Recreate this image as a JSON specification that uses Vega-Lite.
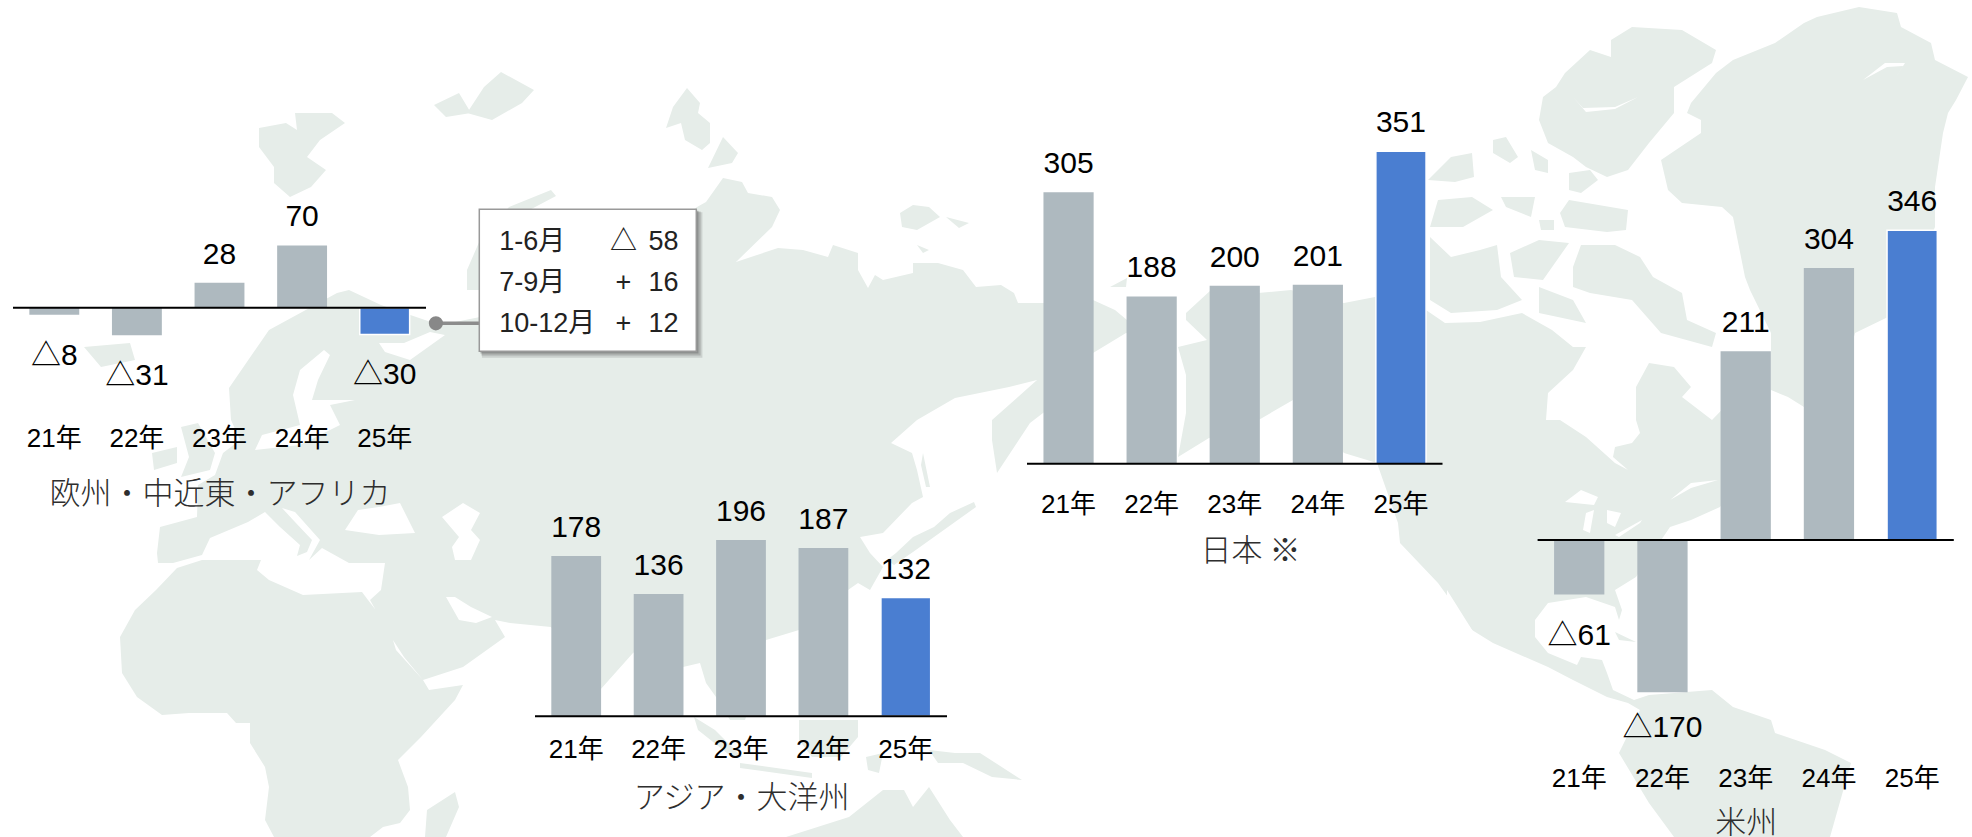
{"$schema":"https://vega.github.io/schema/vega-lite/v6.json","width":1972,"height":837,"padding":0,"autosize":{"type":"none"},"background":"white","config":{"view":{"stroke":null},"text":{"font":"Liberation Sans, Noto Sans CJK JP","fontSize":30,"color":"#000000","baseline":"alphabetic"},"axis":{"grid":false,"domain":false,"ticks":false,"labelPadding":0,"labelAngle":0,"labelFont":"Liberation Sans, Noto Sans CJK JP","labelFontSize":26,"labelColor":"#000000","labelBaseline":"alphabetic","labelFlush":false,"labelOverlap":false,"titleFont":"Noto Sans CJK JP","titleFontSize":31,"titleFontWeight":300,"titleColor":"#2e2e2e","titleBaseline":"alphabetic"}},
"datasets":{"results":[
{"region":"欧州・中近東・アフリカ","year":"21年","value":-8,"label":"△8"},{"region":"欧州・中近東・アフリカ","year":"22年","value":-31,"label":"△31"},{"region":"欧州・中近東・アフリカ","year":"23年","value":28,"label":"28"},{"region":"欧州・中近東・アフリカ","year":"24年","value":70,"label":"70"},{"region":"欧州・中近東・アフリカ","year":"25年","value":-30,"label":"△30"},
{"region":"アジア・大洋州","year":"21年","value":178,"label":"178"},{"region":"アジア・大洋州","year":"22年","value":136,"label":"136"},{"region":"アジア・大洋州","year":"23年","value":196,"label":"196"},{"region":"アジア・大洋州","year":"24年","value":187,"label":"187"},{"region":"アジア・大洋州","year":"25年","value":132,"label":"132"},
{"region":"日本 ※","year":"21年","value":305,"label":"305"},{"region":"日本 ※","year":"22年","value":188,"label":"188"},{"region":"日本 ※","year":"23年","value":200,"label":"200"},{"region":"日本 ※","year":"24年","value":201,"label":"201"},{"region":"日本 ※","year":"25年","value":351,"label":"351"},
{"region":"米州","year":"21年","value":-61,"label":"△61"},{"region":"米州","year":"22年","value":-170,"label":"△170"},{"region":"米州","year":"23年","value":211,"label":"211"},{"region":"米州","year":"24年","value":304,"label":"304"},{"region":"米州","year":"25年","value":346,"label":"346"}],
"breakdown":[{"period":"1-6月","sign":"△","amount":58},{"period":"7-9月","sign":"+","amount":16},{"period":"10-12月","sign":"+","amount":12}]},
"layer":[
{"data":{"values":{"type":"FeatureCollection","features":[
{"type":"Feature","properties":{"kind":"land"},"geometry":{"type":"MultiPolygon","coordinates":[
[[[177,568],[156,590],[135,610],[120,637],[122,673],[137,697],[162,715],[189,713],[227,713],[236,723],[250,723],[250,743],[265,767],[269,787],[265,820],[274,837],[370,837],[383,827],[400,823],[410,810],[408,787],[398,760],[421,737],[455,700],[463,685],[429,690],[423,680],[396,650],[389,627],[368,600],[362,592],[303,595],[269,580],[257,570],[261,560],[202,560],[177,568]]],
[[[455,792],[459,807],[446,837],[425,837],[427,810],[455,792]]],
[[[158,563],[173,563],[202,555],[210,538],[248,522],[265,512],[280,527],[300,545],[297,556],[307,552],[312,540],[295,522],[282,508],[295,512],[320,540],[309,560],[322,548],[349,563],[385,563],[381,590],[370,600],[391,637],[404,657],[423,680],[463,667],[505,637],[495,620],[510,623],[551,627],[560,640],[590,700],[600,690],[633,653],[650,640],[683,667],[700,663],[706,683],[716,697],[730,720],[745,720],[755,690],[766,640],[799,630],[848,590],[858,583],[870,590],[883,567],[870,553],[860,537],[883,533],[912,503],[923,497],[917,470],[912,453],[891,443],[917,420],[955,398],[1009,387],[1037,380],[992,420],[992,440],[997,473],[1030,423],[1060,400],[1093,353],[1126,333],[1170,340],[1176,325],[1127,320],[1115,310],[1093,300],[1043,303],[1018,303],[1014,293],[1001,285],[976,287],[963,270],[938,263],[913,263],[913,273],[883,280],[875,275],[868,288],[858,270],[858,253],[833,245],[828,257],[803,250],[778,248],[736,262],[772,227],[780,210],[772,197],[748,193],[742,182],[723,178],[706,202],[697,207],[600,280],[480,317],[440,325],[425,320],[381,305],[349,290],[337,293],[269,330],[229,388],[231,420],[240,440],[223,453],[215,475],[198,485],[197,517],[160,527],[157,553],[158,563]]],
[[[551,190],[556,196],[520,215],[490,250],[480,290],[467,290],[467,270],[480,240],[509,207],[551,190]]],
[[[152,453],[177,447],[177,463],[154,470],[152,453]]],[[[181,427],[198,423],[215,453],[210,470],[181,477],[189,457],[181,427]]],
[[[84,347],[130,343],[135,360],[101,367],[84,347]]],
[[[259,128],[286,123],[297,130],[295,113],[332,113],[345,123],[320,140],[307,157],[326,170],[311,187],[290,197],[274,183],[274,167],[259,147],[259,128]]],
[[[434,105],[459,93],[471,113],[446,117],[434,105]]],[[[484,87],[501,72],[534,90],[522,103],[492,120],[467,113],[484,87]]],
[[[673,107],[687,88],[700,103],[698,113],[710,123],[710,143],[702,150],[685,140],[681,123],[666,128],[673,107]]],[[[723,137],[738,153],[732,163],[708,168],[723,137]]],
[[[900,213],[913,205],[929,207],[940,217],[917,230],[902,227],[900,213]]],[[[946,217],[969,223],[959,228],[946,217]]],[[[917,245],[929,250],[923,253],[917,245]]],[[[1110,287],[1127,278],[1126,287],[1110,287]]],
[[[974,502],[950,513],[934,527],[913,537],[896,553],[887,560],[894,565],[913,552],[934,537],[955,522],[976,507],[974,502]]],
[[[923,453],[930,487],[926,487],[921,465],[923,453]]],
[[[694,717],[715,730],[742,757],[732,757],[698,730],[694,717]]],[[[740,763],[812,773],[812,778],[740,768],[740,763]]],[[[799,720],[858,720],[858,737],[841,757],[812,757],[799,740],[799,720]]],[[[866,757],[883,753],[879,773],[868,770],[866,757]]],
[[[929,750],[955,753],[980,753],[1022,780],[992,777],[963,763],[938,763],[929,750]]],
[[[786,837],[849,817],[883,790],[904,790],[913,807],[929,787],[950,820],[963,837],[786,837]]],
[[[1186,413],[1178,457],[1209,438],[1250,425],[1293,400],[1344,453],[1377,463],[1398,523],[1400,543],[1438,583],[1472,630],[1493,643],[1548,667],[1573,680],[1607,697],[1628,703],[1640,710],[1619,753],[1649,803],[1674,837],[1830,837],[1851,763],[1825,750],[1775,733],[1771,720],[1733,707],[1712,690],[1649,695],[1634,700],[1613,690],[1607,673],[1602,660],[1581,657],[1577,665],[1548,653],[1535,637],[1535,620],[1548,603],[1586,597],[1615,607],[1619,620],[1622,610],[1615,590],[1636,577],[1670,527],[1691,520],[1720,507],[1746,470],[1746,385],[1712,420],[1682,397],[1691,387],[1674,367],[1649,363],[1636,387],[1636,420],[1640,433],[1632,443],[1615,447],[1613,457],[1628,470],[1615,463],[1586,437],[1560,420],[1546,420],[1548,393],[1573,370],[1586,347],[1573,347],[1552,330],[1522,313],[1480,322],[1445,323],[1426,310],[1375,297],[1344,303],[1291,290],[1258,293],[1211,290],[1186,313],[1186,320],[1207,340],[1178,347],[1186,375],[1186,413]]],
[[[1565,73],[1590,50],[1611,57],[1611,40],[1632,27],[1682,30],[1716,50],[1712,63],[1674,87],[1674,113],[1649,143],[1628,170],[1607,177],[1586,167],[1573,157],[1548,143],[1539,120],[1543,97],[1556,87],[1565,73]]],
[[[1804,23],[1817,17],[1859,7],[1897,13],[1901,27],[1931,43],[1935,60],[1968,77],[1956,100],[1948,113],[1943,133],[1935,187],[1935,227],[1918,267],[1888,317],[1855,333],[1846,367],[1804,407],[1788,397],[1771,390],[1771,333],[1750,290],[1745,277],[1733,217],[1722,207],[1682,203],[1668,190],[1661,160],[1701,133],[1701,120],[1687,113],[1691,103],[1716,73],[1733,60],[1775,43],[1804,23]]],
[[[1493,140],[1506,137],[1518,157],[1510,163],[1493,153],[1493,140]]],[[[1531,150],[1548,160],[1548,173],[1535,170],[1531,150]]],[[[1451,157],[1472,153],[1474,177],[1455,182],[1428,180],[1451,157]]],[[[1438,200],[1472,197],[1493,210],[1463,227],[1430,227],[1438,200]]],[[[1501,197],[1535,197],[1531,217],[1506,207],[1501,197]]],
[[[1560,213],[1569,200],[1628,210],[1626,230],[1607,232],[1565,227],[1560,213]]],[[[1569,173],[1590,170],[1598,180],[1581,193],[1569,190],[1569,173]]],[[[1539,220],[1554,220],[1554,230],[1541,230],[1539,220]]],
[[[1430,237],[1451,257],[1480,250],[1497,245],[1501,277],[1522,300],[1497,310],[1451,313],[1430,300],[1430,237]]],[[[1510,253],[1539,240],[1569,243],[1543,280],[1514,277],[1510,253]]],
[[[1573,267],[1581,245],[1615,245],[1640,257],[1653,277],[1682,293],[1687,320],[1716,333],[1712,347],[1661,333],[1632,300],[1590,293],[1573,287],[1573,267]]],[[[1539,287],[1573,300],[1586,323],[1539,313],[1539,287]]],
[[[1615,632],[1636,642],[1619,640],[1615,632]]]]}},
{"type":"Feature","properties":{"kind":"sea"},"geometry":{"type":"MultiPolygon","coordinates":[
[[[446,597],[459,620],[476,623],[492,617],[471,607],[455,597],[446,597]]],
[[[442,517],[463,503],[480,513],[471,530],[480,540],[471,560],[455,560],[452,547],[459,537],[442,517]]],
[[[345,530],[358,510],[379,507],[400,503],[415,533],[379,535],[345,530]]],
[[[324,350],[300,370],[293,395],[300,425],[262,435],[255,450],[300,445],[340,425],[330,405],[355,400],[330,400],[312,400],[318,380],[330,355],[324,350]]],
[[[379,343],[404,343],[430,332],[445,335],[410,360],[385,352],[379,343]]],
[[[1447,590],[1474,633],[1468,630],[1447,600],[1447,590]]],
[[[1586,513],[1594,510],[1590,533],[1583,530],[1586,513]]],[[[1607,510],[1621,513],[1615,527],[1607,523],[1607,510]]],[[[1615,535],[1642,520],[1640,523],[1619,537],[1615,535]]],[[[1565,502],[1581,490],[1598,497],[1594,505],[1565,502]]],[[[1670,500],[1691,483],[1718,480],[1691,488],[1670,500]]],
[[[1573,97],[1583,108],[1615,107],[1638,97],[1615,109],[1586,112],[1573,97]]],[[[1863,80],[1885,63],[1905,63],[1893,82],[1903,66],[1887,67],[1863,80]]]]}}]},"format":{"type":"json","property":"features"}},
"mark":{"type":"geoshape","stroke":null},"projection":{"type":"identity","scale":1,"translate":[0,0]},"encoding":{"color":{"field":"properties.kind","type":"nominal","scale":{"domain":["land","sea"],"range":["#e6ede9","#ffffff"]},"legend":null}}},

{"data":{"name":"results"},"transform":[{"filter":"datum.region==='欧州・中近東・アフリカ'"}],
"encoding":{"x":{"field":"year","type":"nominal","scale":{"domain":["21年","22年","23年","24年","25年"],"range":[13,426],"paddingInner":0.396,"paddingOuter":0.198},"axis":{"orient":"bottom","zindex":1,"offset":-391,"title":"欧州・中近東・アフリカ","titleY":57}},"y":{"field":"value","type":"quantitative","stack":null,"scale":{"domain":[-200,400],"range":[485.7,-48.3]},"axis":null}},
"layer":[{"mark":{"type":"bar","strokeWidth":1.5},"encoding":{"color":{"field":"year","type":"nominal","scale":{"domain":["21年","22年","23年","24年","25年"],"range":["#aeb9bf","#aeb9bf","#aeb9bf","#aeb9bf","#4a7ed1"]},"legend":null},"stroke":{"condition":{"test":"datum.year==='25年'","value":"#ffffff"},"value":null}}},
{"transform":[{"filter":"datum.value>=0"}],"mark":{"type":"text","dy":-19},"encoding":{"text":{"field":"label"}}},
{"transform":[{"filter":"datum.value<0"}],"mark":{"type":"text","dy":50},"encoding":{"text":{"field":"label"}}}]},
{"data":{"values":[{}]},"mark":{"type":"rule","color":"#000000","strokeWidth":2},"encoding":{"x":{"datum":0,"type":"quantitative","scale":{"domain":[0,1],"range":[13,426]},"axis":null},"x2":{"datum":1},"y":{"datum":0,"type":"quantitative","scale":{"domain":[-200,400],"range":[485.7,-48.3]},"axis":null}}},

{"data":{"name":"results"},"transform":[{"filter":"datum.region==='アジア・大洋州'"}],
"encoding":{"x":{"field":"year","type":"nominal","scale":{"domain":["21年","22年","23年","24年","25年"],"range":[535,947],"paddingInner":0.396,"paddingOuter":0.198},"axis":{"orient":"bottom","zindex":1,"offset":-80,"title":"アジア・大洋州","titleY":50}},"y":{"field":"value","type":"quantitative","stack":null,"scale":{"domain":[-200,400],"range":[896.3,356.3]},"axis":null}},
"layer":[{"mark":{"type":"bar","strokeWidth":1.5},"encoding":{"color":{"field":"year","type":"nominal","scale":{"domain":["21年","22年","23年","24年","25年"],"range":["#aeb9bf","#aeb9bf","#aeb9bf","#aeb9bf","#4a7ed1"]},"legend":null},"stroke":{"condition":{"test":"datum.year==='25年'","value":"#ffffff"},"value":null}}},
{"mark":{"type":"text","dy":-19},"encoding":{"text":{"field":"label"}}}]},
{"data":{"values":[{}]},"mark":{"type":"rule","color":"#000000","strokeWidth":2},"encoding":{"x":{"datum":0,"type":"quantitative","scale":{"domain":[0,1],"range":[535,947]},"axis":null},"x2":{"datum":1},"y":{"datum":0,"type":"quantitative","scale":{"domain":[-200,400],"range":[896.3,356.3]},"axis":null}}},

{"data":{"name":"results"},"transform":[{"filter":"datum.region==='日本 ※'"}],
"encoding":{"x":{"field":"year","type":"nominal","scale":{"domain":["21年","22年","23年","24年","25年"],"range":[1027,1442.5],"paddingInner":0.396,"paddingOuter":0.198},"axis":{"orient":"bottom","zindex":1,"offset":-325,"title":"日本 ※","titleY":48,"titleX":1250}},"y":{"field":"value","type":"quantitative","stack":null,"scale":{"domain":[-200,400],"range":[641.7,107.7]},"axis":null}},
"layer":[{"mark":{"type":"bar","strokeWidth":1.5},"encoding":{"color":{"field":"year","type":"nominal","scale":{"domain":["21年","22年","23年","24年","25年"],"range":["#aeb9bf","#aeb9bf","#aeb9bf","#aeb9bf","#4a7ed1"]},"legend":null},"stroke":{"condition":{"test":"datum.year==='25年'","value":"#ffffff"},"value":null}}},
{"mark":{"type":"text","dy":-19},"encoding":{"text":{"field":"label"}}}]},
{"data":{"values":[{}]},"mark":{"type":"rule","color":"#000000","strokeWidth":2},"encoding":{"x":{"datum":0,"type":"quantitative","scale":{"domain":[0,1],"range":[1027,1442.5]},"axis":null},"x2":{"datum":1},"y":{"datum":0,"type":"quantitative","scale":{"domain":[-200,400],"range":[641.7,107.7]},"axis":null}}},

{"data":{"name":"results"},"transform":[{"filter":"datum.region==='米州'"}],
"encoding":{"x":{"field":"year","type":"nominal","scale":{"domain":["21年","22年","23年","24年","25年"],"range":[1537.6,1953.8],"paddingInner":0.396,"paddingOuter":0.198},"axis":{"orient":"bottom","zindex":1,"offset":-51,"title":"米州","titleY":46.5}},"y":{"field":"value","type":"quantitative","stack":null,"scale":{"domain":[-200,400],"range":[719,182]},"axis":null}},
"layer":[{"mark":{"type":"bar","strokeWidth":1.5},"encoding":{"color":{"field":"year","type":"nominal","scale":{"domain":["21年","22年","23年","24年","25年"],"range":["#aeb9bf","#aeb9bf","#aeb9bf","#aeb9bf","#4a7ed1"]},"legend":null},"stroke":{"condition":{"test":"datum.year==='25年'","value":"#ffffff"},"value":null}}},
{"transform":[{"filter":"datum.value>=0"}],"mark":{"type":"text","dy":-19},"encoding":{"text":{"field":"label"}}},
{"transform":[{"filter":"datum.value<0 && datum.value>-100"}],"mark":{"type":"text","dy":50},"encoding":{"text":{"field":"label"}}},
{"transform":[{"filter":"datum.value<=-100"}],"mark":{"type":"text","dy":45},"encoding":{"text":{"field":"label"}}}]},
{"data":{"values":[{}]},"mark":{"type":"rule","color":"#000000","strokeWidth":2},"encoding":{"x":{"datum":0,"type":"quantitative","scale":{"domain":[0,1],"range":[1537.6,1953.8]},"axis":null},"x2":{"datum":1},"y":{"datum":0,"type":"quantitative","scale":{"domain":[-200,400],"range":[719,182]},"axis":null}}},

{"data":{"values":[{}]},"encoding":{"x":{"datum":0,"type":"quantitative","scale":{"domain":[0,100],"range":[479.3,696.3]},"axis":null},"y":{"datum":0,"type":"quantitative","scale":{"domain":[0,100],"range":[209.3,351.3]},"axis":null}},
"layer":[
{"mark":{"type":"rule","color":"#8c8c8c","strokeWidth":3.5},"encoding":{"x":{"datum":-20,"type":"quantitative"},"x2":{"datum":0},"y":{"datum":80.3,"type":"quantitative"}}},
{"mark":{"type":"point","filled":true,"size":200,"color":"#888888","opacity":1},"encoding":{"x":{"datum":-20,"type":"quantitative"},"y":{"datum":80.3,"type":"quantitative"}}},
{"mark":{"type":"rect","color":"#555555","opacity":0.18},"encoding":{"x":{"datum":1.2,"type":"quantitative"},"x2":{"datum":102.8},"y":{"datum":2,"type":"quantitative"},"y2":{"datum":104.5}}},
{"mark":{"type":"rect","color":"#555555","opacity":0.25},"encoding":{"x":{"datum":1,"type":"quantitative"},"x2":{"datum":102},"y":{"datum":1.5,"type":"quantitative"},"y2":{"datum":103}}},
{"mark":{"type":"rect","color":"#555555","opacity":0.35},"encoding":{"x":{"datum":0.5,"type":"quantitative"},"x2":{"datum":101},"y":{"datum":1,"type":"quantitative"},"y2":{"datum":101.5}}},
{"mark":{"type":"rect","fill":"#ffffff","stroke":"#999999","strokeWidth":1.5,"opacity":1},"encoding":{"x":{"datum":0,"type":"quantitative"},"x2":{"datum":100},"y":{"datum":0,"type":"quantitative"},"y2":{"datum":100}}}]},

{"data":{"name":"breakdown"},"encoding":{"y":{"field":"period","type":"ordinal","scale":{"type":"point","domain":["1-6月","7-9月","10-12月"],"range":[250,331.7],"padding":0},"axis":null},"x":{"datum":0,"type":"quantitative","scale":{"domain":[0,100],"range":[479.3,696.3]},"axis":null}},
"layer":[
{"mark":{"type":"text","fontSize":27,"color":"#222222","align":"left"},"encoding":{"x":{"datum":9.2,"type":"quantitative"},"text":{"field":"period"}}},
{"mark":{"type":"text","fontSize":27,"color":"#222222","align":"center"},"encoding":{"x":{"datum":66.4,"type":"quantitative"},"text":{"field":"sign"}}},
{"mark":{"type":"text","fontSize":27,"color":"#222222","align":"right"},"encoding":{"x":{"datum":91.8,"type":"quantitative"},"text":{"field":"amount"}}}]}
],
"resolve":{"scale":{"x":"independent","y":"independent","color":"independent"}}}
